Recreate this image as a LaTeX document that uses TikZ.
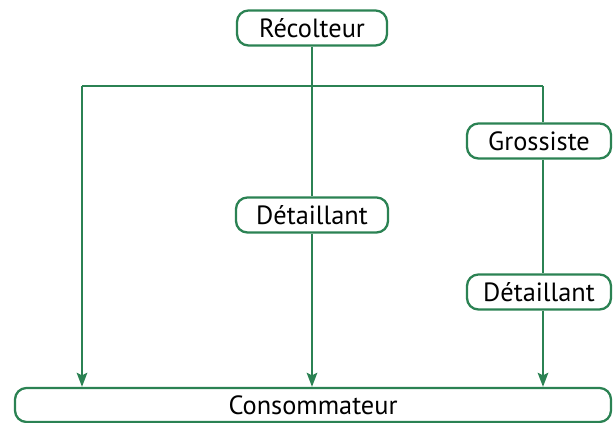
\documentclass[tikz,border=0pt]{standalone}
\usepackage{fontspec}
\setmainfont{PT Sans}
\usetikzlibrary{positioning,arrows.meta}
\definecolor{chaingreen}{HTML}{2B8253}

\begin{document}
\begin{tikzpicture}[
  actor/.style={draw=chaingreen, rounded corners=6.5pt, line width=1.3pt,
                minimum height=0.70cm, inner sep=0pt, align=center,
                font=\fontsize{15}{17}\selectfont},
  link/.style={chaingreen, line width=1.3pt},
  arr/.style={link, -{Stealth[length=8pt, width=6pt, inset=1.5pt]}},
]
\useasboundingbox (0,0) rectangle (12.26,8.46);
% Producer on top
\node[actor, minimum width=3.0cm] (rec) at (6.24,7.90) {Récolteur};
% Consumer at the bottom
\node[actor, minimum width=11.92cm, minimum height=0.68cm] (cons) at (6.26,0.36) {Consommateur};
% Intermediaries
\node[actor, minimum width=3.04cm] (det1) at (6.24,4.16) {Détaillant};
\node[actor, minimum width=2.88cm] (gros) at (10.78,5.64) {Grossiste};
\node[actor, minimum width=2.88cm] (det2) at (10.78,2.62) {Détaillant};
% Split bar
\coordinate (barL) at (1.64,6.74);
\coordinate (barR) at (10.86,6.74);
\draw[link] (barL) -- (barR);
% Direct channel
\draw[arr] (barL) -- (barL |- cons.north);
% Via retailer
\draw[link] (rec) -- (det1);
\draw[arr] (det1) -- (det1 |- cons.north);
% Via wholesaler and retailer
\draw[link] (barR) -- (barR |- gros.north);
\draw[link] (barR |- gros.south) -- (barR |- det2.north);
\draw[arr] (barR |- det2.south) -- (barR |- cons.north);
\end{tikzpicture}
\end{document}
